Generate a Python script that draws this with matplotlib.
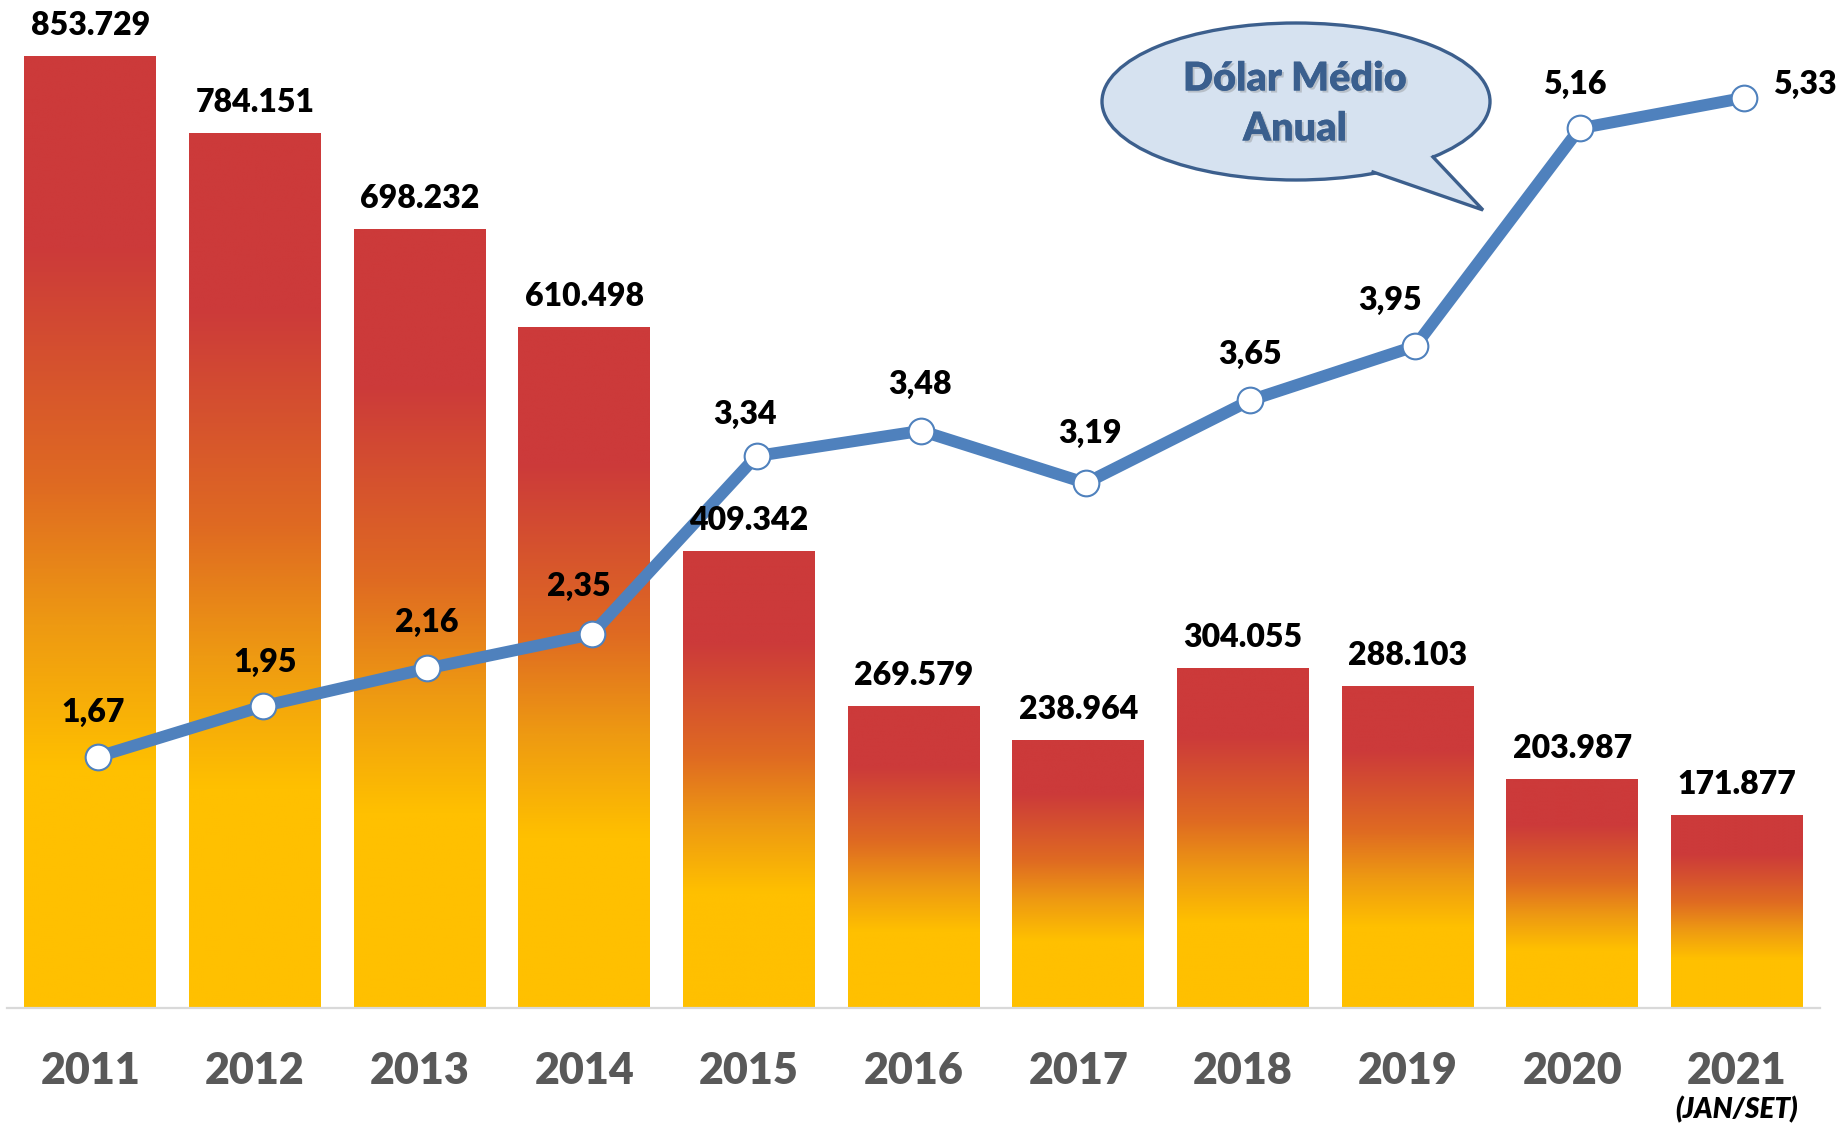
import numpy as np
import matplotlib
matplotlib.use("Agg")
import matplotlib.pyplot as plt
from matplotlib.colors import LinearSegmentedColormap
from matplotlib.patches import Ellipse, Polygon
from matplotlib.lines import Line2D
import matplotlib.patheffects as pe

plt.rcParams['font.family'] = ['Lato', 'DejaVu Sans']

years = ['2011', '2012', '2013', '2014', '2015', '2016', '2017', '2018', '2019', '2020', '2021']
volumes = [853729, 784151, 698232, 610498, 409342, 269579, 238964, 304055, 288103, 203987, 171877]
dolar = [1.67, 1.95, 2.16, 2.35, 3.34, 3.48, 3.19, 3.65, 3.95, 5.16, 5.33]
dolar_label_offsets = [(-5, 44), (3, 44), (0, 46), (-13, 48), (-12, 42), (-1, 46),
                       (4, 50), (0, 46), (-25, 46), (-5, 44), (60, 13)]

W, H = 1843, 1124
fig = plt.figure(figsize=(W / 100, H / 100), dpi=100)
ax = fig.add_axes([7 / W, (H - 1007.5) / H, 1812.5 / W, 1007.5 / H])

x = np.arange(len(years))
vals_k = np.array(volumes) / 1000.0
bars = ax.bar(x, vals_k, width=0.8, color='none', edgecolor='none')

cmap = LinearSegmentedColormap.from_list('grad', [
    (0.0, '#FFC000'), (0.25, '#FFC000'), (0.40, '#EE9A12'),
    (0.55, '#DF6A22'), (0.80, '#CC3A3A'), (1.0, '#CC3A3A')])
grad = np.linspace(0, 1, 512).reshape(-1, 1)
for p in bars.patches:
    x0, w, h = p.get_x(), p.get_width(), p.get_height()
    ax.imshow(grad, extent=[x0, x0 + w, 0, h], origin='lower', aspect='auto',
              cmap=cmap, zorder=1, interpolation='bilinear')

ax.set_xlim(-0.506, 10.502)
ax.set_ylim(0, 904.9)
for s in ['top', 'left', 'right']:
    ax.spines[s].set_visible(False)
ax.spines['bottom'].set_color('#D9D9D9')
ax.spines['bottom'].set_linewidth(1.6)
ax.set_yticks([])
ax.set_xticks(x, years)
ax.tick_params(axis='x', length=0, pad=31, labelsize=31, labelcolor='#595959')
for t in ax.get_xticklabels():
    t.set_fontweight('heavy')
ax.annotate('(JAN/SET)', xy=(x[-1], 0), xycoords=('data', 'axes fraction'),
            xytext=(0, -102), textcoords='offset pixels', ha='center', va='center',
            fontsize=20, fontweight='heavy', fontstyle='italic', color='black')

ax2 = ax.twinx()
ax2.set_ylim(0.277, 5.873)
ax2.set_xlim(ax.get_xlim())
for s in ax2.spines.values():
    s.set_visible(False)
ax2.set_yticks([])
xl = x + 0.046
ax2.plot(xl, dolar, color='#4F81BD', lw=8.6, marker='o', ms=18.5, mfc='white',
         mec='#4F81BD', mew=1.5, solid_joinstyle='round', solid_capstyle='round', zorder=3)

for xi, v, (dx, dy) in zip(xl, dolar, dolar_label_offsets):
    ax2.annotate(f"{v:.2f}".replace('.', ','), xy=(xi, v), xytext=(dx, dy),
                 textcoords='offset pixels', ha='center', va='center',
                 fontsize=23, fontweight='heavy', color='black', zorder=6)

for p, v in zip(bars.patches, volumes):
    ax2.annotate(f"{v:,}".replace(',', '.'),
                 xy=(p.get_x() + p.get_width() / 2, p.get_height()), xycoords=ax.transData,
                 xytext=(0, 22), textcoords='offset pixels', ha='center', va='baseline',
                 fontsize=23, fontweight='heavy', color='black', zorder=10)

# speech bubble
def fx(px):
    return px / W

def fy(py):
    return 1 - py / H

fill_c = '#D6E2F0'
edge_c = '#3C5F8D'
ell = Ellipse((fx(1296), fy(101.5)), 388 / W, 157 / H, transform=fig.transFigure,
              facecolor=fill_c, edgecolor=edge_c, lw=2.4, zorder=20)
fig.add_artist(ell)
b1, tip, b2 = (1373, 172), (1483, 210), (1433, 157)
tail = Polygon([(fx(b1[0]), fy(b1[1])), (fx(tip[0]), fy(tip[1])), (fx(b2[0]), fy(b2[1])),
                (fx(1405), fy(150))], closed=True, transform=fig.transFigure,
               facecolor=fill_c, edgecolor='none', zorder=21)
fig.add_artist(tail)
tl = Line2D([fx(b1[0]), fx(tip[0]), fx(b2[0])], [fy(b1[1]), fy(tip[1]), fy(b2[1])],
            transform=fig.transFigure, color=edge_c, lw=2.4, solid_joinstyle='miter', zorder=22)
fig.add_artist(tl)
shadow = [pe.withSimplePatchShadow(offset=(1.5, -1.5), shadow_rgbFace='#7F7F7F', alpha=0.35), pe.Normal()]
fig.text(fx(1295), fy(79), 'Dólar Médio', ha='center', va='center', fontsize=28.5,
         fontweight='heavy', color='#3A5F8E', zorder=23, path_effects=shadow)
fig.text(fx(1295), fy(129), 'Anual', ha='center', va='center', fontsize=28.5,
         fontweight='heavy', color='#3A5F8E', zorder=23, path_effects=shadow)

fig.savefig('out.png', dpi=100)
